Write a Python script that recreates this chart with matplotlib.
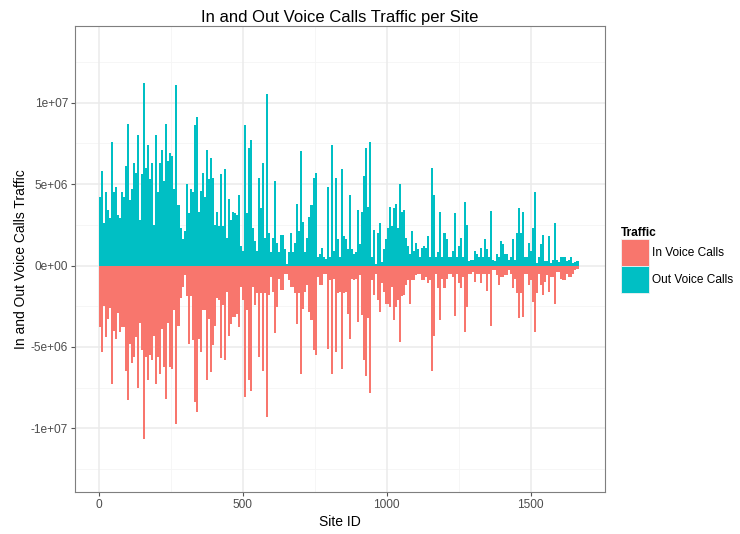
import numpy as np
import matplotlib.pyplot as plt
from matplotlib.patches import Patch

plt.rcParams['font.family'] = ['Liberation Sans', 'DejaVu Sans']

# sites are grouped in bins of 7 consecutive ids, one bar per bin
SITES_PER_BAR = 7

# outgoing voice call traffic per bin, millions
out_calls = [
    4.2, 5.8, 2.6, 4.5, 3.4, 2.9, 7.6, 4.5, 4.8, 3.1,
    2.9, 4.5, 4.2, 6.1, 8.7, 4.0, 4.7, 6.3, 5.7, 8.0,
    2.8, 5.6, 11.2, 6.0, 7.4, 5.3, 6.3, 2.5, 8.0, 4.5,
    6.3, 7.1, 5.2, 8.7, 6.4, 6.9, 6.7, 4.7, 11.1, 3.7,
    2.3, 1.6, 2.1, 5.0, 3.2, 4.7, 4.5, 8.6, 9.1, 3.3,
    4.6, 5.7, 4.2, 7.1, 5.3, 6.6, 5.4, 2.5, 3.3, 2.4,
    5.6, 2.4, 5.9, 1.7, 4.1, 2.8, 3.3, 3.2, 3.1, 4.3,
    1.2, 0.9, 8.6, 3.2, 7.2, 7.7, 2.3, 1.5, 0.9, 5.4,
    3.5, 6.3, 1.7, 10.5, 2.0, 0.8, 1.7, 5.2, 1.4, 0.8,
    1.9, 1.9, 1.0, 0.1, 0.8, 2.0, 0.8, 1.4, 3.8, 2.1,
    7.0, 2.7, 0.8, 1.7, 3.0, 3.7, 5.4, 5.7, 0.5, 0.7,
    1.1, 0.5, 0.4, 4.8, 0.5, 7.4, 0.9, 5.4, 1.6, 0.5,
    5.9, 1.8, 1.6, 1.0, 4.3, 1.0, 0.7, 0.8, 3.4, 1.3,
    3.3, 5.5, 7.2, 3.6, 7.6, 0.5, 2.2, 0.1, 2.0, 2.6,
    0.2, 1.0, 1.6, 2.3, 3.6, 2.4, 3.5, 3.8, 2.3, 5.0,
    3.3, 3.4, 1.7, 1.2, 0.7, 2.1, 0.9, 1.4, 1.0, 0.5,
    1.1, 1.2, 1.1, 1.8, 0.5, 6.0, 4.3, 0.5, 0.8, 3.3,
    0.5, 2.0, 1.6, 0.5, 0.5, 0.9, 3.2, 0.5, 1.2, 1.7,
    0.5, 3.9, 2.5, 0.3, 0.35, 0.35, 0.9, 0.7, 0.5, 1.1,
    0.5, 1.6, 1.0, 0.5, 3.35, 0.35, 0.3, 0.7, 0.5, 1.5,
    1.3, 0.7, 0.7, 0.35, 0.5, 1.6, 0.35, 2.0, 3.5, 2.0,
    3.3, 0.55, 0.5, 1.4, 0.9, 2.3, 4.5, 0.15, 0.5, 1.3,
    1.9, 0.3, 0.3, 1.8, 0.15, 0.35, 2.6, 0.35, 0.2, 0.55,
    0.55, 0.5, 0.25, 0.35, 0.5, 0.15, 0.2, 0.3,
]

# incoming voice call traffic per bin, millions (plotted downwards)
in_calls = [
    3.8, 5.3, 2.5, 4.4, 3.3, 2.6, 7.3, 4.0, 4.5, 2.9,
    4.1, 3.8, 3.8, 6.45, 8.25, 4.8, 6.0, 5.6, 4.4, 7.5,
    3.5, 5.2, 10.65, 5.6, 7.0, 5.5, 5.8, 4.3, 7.3, 5.6,
    6.65, 3.9, 6.25, 8.2, 3.5, 6.25, 6.35, 2.75, 9.7, 3.7,
    2.0, 1.3, 0.6, 1.9, 4.8, 1.9, 4.6, 8.4, 9.0, 4.5,
    5.3, 2.75, 2.75, 7.0, 3.3, 6.55, 4.9, 3.7, 2.0, 2.1,
    5.7, 2.45, 5.8, 1.6, 4.3, 3.6, 3.15, 3.15, 2.95, 3.8,
    1.3, 2.1, 8.05, 2.75, 7.05, 7.7, 1.3, 2.45, 1.7, 5.6,
    1.7, 6.45, 1.7, 9.3, 1.8, 0.7, 1.6, 4.15, 2.55, 0.8,
    1.5, 1.5, 0.5, 0.5, 0.9, 1.3, 1.3, 1.7, 3.6, 1.7,
    6.65, 2.65, 1.6, 1.2, 2.85, 3.35, 5.2, 5.5, 0.7, 1.2,
    1.2, 0.5, 0.5, 5.1, 0.9, 6.65, 0.8, 5.3, 1.7, 1.6,
    6.35, 1.7, 1.6, 2.95, 4.5, 0.8, 0.9, 0.8, 3.45, 0.6,
    3.05, 5.8, 6.75, 3.25, 7.8, 0.9, 1.8, 0.5, 2.1, 2.85,
    1.1, 1.6, 2.35, 2.35, 2.55, 1.3, 3.35, 2.55, 2.1, 4.7,
    1.9, 1.8, 1.2, 0.9, 2.35, 0.9, 0.9, 0.6, 0.5, 0.5,
    0.9, 0.9, 0.7, 1.1, 0.9, 6.45, 4.35, 0.5, 1.4, 3.35,
    0.8, 1.4, 0.8, 0.5, 0.5, 0.7, 3.1, 0.5, 1.1, 1.4,
    0.7, 4.1, 2.55, 0.5, 0.5, 0.4, 1.0, 0.5, 0.5, 1.05,
    0.5, 0.5, 1.55, 0.5, 3.7, 0.3, 0.3, 0.6, 1.2, 0.7,
    0.7, 0.6, 0.6, 0.3, 0.5, 1.4, 0.8, 1.7, 3.25, 1.7,
    3.15, 0.5, 0.5, 1.2, 0.9, 2.25, 4.1, 1.7, 0.5, 1.2,
    1.8, 1.0, 0.6, 1.6, 0.7, 0.7, 2.35, 0.4, 0.4, 0.8,
    0.9, 0.9, 0.5, 0.7, 0.7, 0.5, 0.3, 0.2,
]

series_names = ["In Voice Calls", "Out Voice Calls"]
series_colors = ["#F8766D", "#00BFC4"]

y_ticks = [-1e7, -5e6, 0, 5e6, 1e7]
y_ticklabels = ["-1e+07", "-5e+06", "0e+00", "5e+06", "1e+07"]
x_ticks = [0, 500, 1000, 1500]

out_vals = np.array(out_calls) * 1e6
in_vals = -np.array(in_calls) * 1e6
out_site = np.arange(len(out_vals)) * SITES_PER_BAR
in_site = np.arange(len(in_vals)) * SITES_PER_BAR

fig = plt.figure(figsize=(7.4, 5.34), dpi=100)
ax = fig.add_axes([75 / 740, 1 - 492 / 534, 530 / 740, 466 / 534])

grid_major = "#EBEBEB"
grid_minor = "#F5F5F5"
for v in [-12.5e6, -7.5e6, -2.5e6, 2.5e6, 7.5e6, 12.5e6]:
    ax.axhline(v, color=grid_minor, lw=0.6, zorder=0)
for v in [250, 750, 1250]:
    ax.axvline(v, color=grid_minor, lw=0.6, zorder=0)
for v in y_ticks:
    ax.axhline(v, color=grid_major, lw=1.1, zorder=0)
for v in x_ticks:
    ax.axvline(v, color=grid_major, lw=1.1, zorder=0)

ax.bar(in_site, in_vals, width=SITES_PER_BAR, align="edge",
       color=series_colors[0], linewidth=0, zorder=2)
ax.bar(out_site, out_vals, width=SITES_PER_BAR, align="edge",
       color=series_colors[1], linewidth=0, zorder=2)

ax.set_xlim(-83, 1758)
ax.set_ylim(-13.9e6, 14.7e6)
ax.set_xticks(x_ticks)
ax.set_xticklabels([str(t) for t in x_ticks])
ax.set_yticks(y_ticks)
ax.set_yticklabels(y_ticklabels)
ax.tick_params(length=3, width=0.8, color="#555555", labelcolor="#4D4D4D",
               labelsize=8.6, pad=2)
for s in ax.spines.values():
    s.set_color("#7F7F7F")
    s.set_linewidth(0.8)

ax.set_title("In and Out Voice Calls Traffic per Site", fontsize=12, pad=3)
ax.set_xlabel("Site ID", fontsize=10, labelpad=3)
ax.set_ylabel("In and Out Voice Calls Traffic", fontsize=10, labelpad=2)

handles = [Patch(facecolor=c, edgecolor="#F2F2F2", linewidth=0.6) for c in series_colors]
leg = fig.legend(handles, series_names, title="Traffic", loc="upper left",
                 bbox_to_anchor=(621 / 740, 1 - 227 / 534), frameon=False,
                 fontsize=8.6, title_fontsize=8.6, handlelength=2.35,
                 handleheight=3.1, labelspacing=0, handletextpad=0.25,
                 borderaxespad=0, borderpad=0, alignment="left")
leg.get_title().set_fontweight("bold")

fig.savefig("out.png", dpi=100)
